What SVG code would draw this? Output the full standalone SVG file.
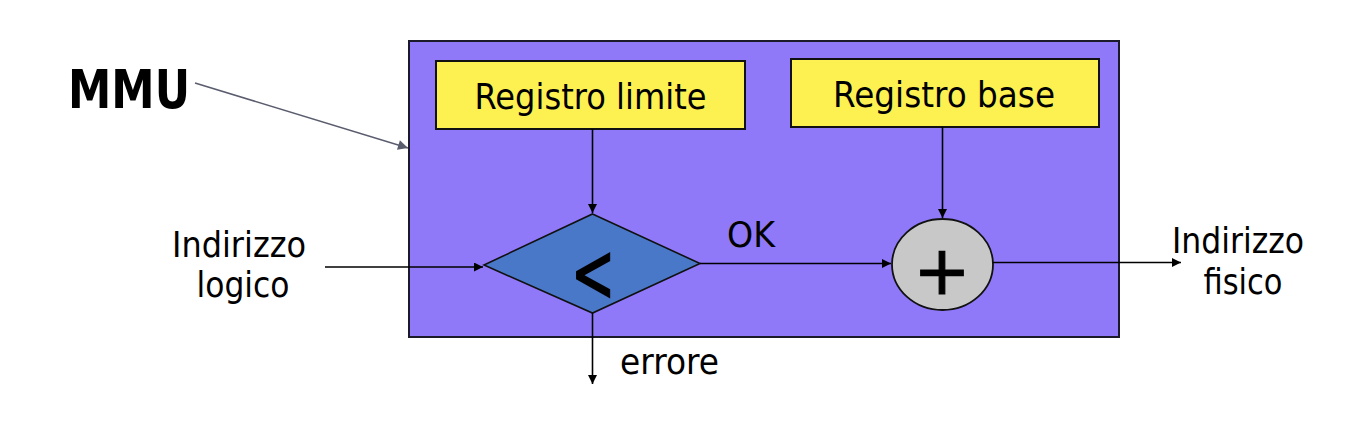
<svg xmlns="http://www.w3.org/2000/svg" width="1370" height="422" viewBox="0 0 1370 422">
<defs>
<marker id="ah" viewBox="0 0 10 10" refX="10" refY="5" markerWidth="11" markerHeight="9" markerUnits="userSpaceOnUse" orient="auto"><path d="M0,0 L10,5 L0,10 z" fill="#000"/></marker>
<marker id="ahg" viewBox="0 0 10 10" refX="10" refY="5" markerWidth="13" markerHeight="10" markerUnits="userSpaceOnUse" orient="auto"><path d="M0,0 L10,5 L0,10 z" fill="#5a5d6e"/></marker>
<style>
.t{font-family:"DejaVu Sans","Verdana",sans-serif;font-size:35px;fill:#000}
.c{stroke:#000;stroke-width:1.6;fill:none;marker-end:url(#ah)}
.reg{fill:#fdf152;stroke:#111;stroke-width:2}
.sym{font-family:"DejaVu Sans",sans-serif;fill:#000;stroke:#000;stroke-width:1.2}
</style>
</defs>
<rect width="1370" height="422" fill="#fff"/>
<g id="mmu-box"><rect x="409" y="41" width="710" height="296" fill="#8f79f8" stroke="#1a1a2a" stroke-width="2"/></g>
<g id="mmu-label"><text x="68" y="108" font-family="DejaVu Sans,Verdana,sans-serif" font-weight="bold" font-size="53" textLength="122" lengthAdjust="spacingAndGlyphs">MMU</text></g>
<g id="reg-limite"><rect class="reg" x="436" y="61" width="309" height="68"/><text class="t" x="590.5" y="109" text-anchor="middle" textLength="232" lengthAdjust="spacingAndGlyphs">Registro limite</text></g>
<g id="reg-base"><rect class="reg" x="791" y="59" width="308" height="68"/><text class="t" x="944" y="107" text-anchor="middle" textLength="222" lengthAdjust="spacingAndGlyphs">Registro base</text></g>
<g id="compare"><polygon points="592.5,214 700,263.5 592.5,313 484,265" fill="#4a78c8" stroke="#111" stroke-width="1.6"/><text class="sym" transform="translate(593,301) scale(0.88,1.38)" x="0" y="0" text-anchor="middle" font-size="60">&lt;</text></g>
<g id="sum"><ellipse cx="942.5" cy="264.5" rx="50.5" ry="45.5" fill="#c8c8c8" stroke="#111" stroke-width="1.8"/><text class="sym" x="942" y="294" text-anchor="middle" font-size="68">+</text></g>
<g id="in-label"><text class="t" x="239" y="257" text-anchor="middle" textLength="134" lengthAdjust="spacingAndGlyphs">Indirizzo</text><text class="t" x="243" y="297" text-anchor="middle" textLength="93" lengthAdjust="spacingAndGlyphs">logico</text></g>
<g id="out-label"><text class="t" x="1238" y="253" text-anchor="middle" textLength="132" lengthAdjust="spacingAndGlyphs">Indirizzo</text><text class="t" x="1243" y="294" text-anchor="middle" textLength="79" lengthAdjust="spacingAndGlyphs">fisico</text></g>
<g id="ok-label"><text class="t" x="751" y="247" text-anchor="middle" textLength="48" lengthAdjust="spacingAndGlyphs">OK</text></g>
<g id="err-label"><text class="t" x="620" y="374" textLength="99" lengthAdjust="spacingAndGlyphs">errore</text></g>
<g id="connectors">
<line class="c" x1="592.5" y1="129" x2="592.5" y2="213"/>
<line class="c" x1="942.5" y1="127" x2="942.5" y2="218"/>
<line class="c" x1="325" y1="267" x2="483" y2="267"/>
<line class="c" x1="700" y1="263.5" x2="891" y2="263.5"/>
<line class="c" x1="993" y1="262.5" x2="1181" y2="262.5"/>
<line class="c" x1="592.5" y1="313" x2="592.5" y2="384"/>
<line x1="195" y1="83" x2="408" y2="148" stroke="#5a5d6e" stroke-width="1.6" marker-end="url(#ahg)"/>
</g>
</svg>
